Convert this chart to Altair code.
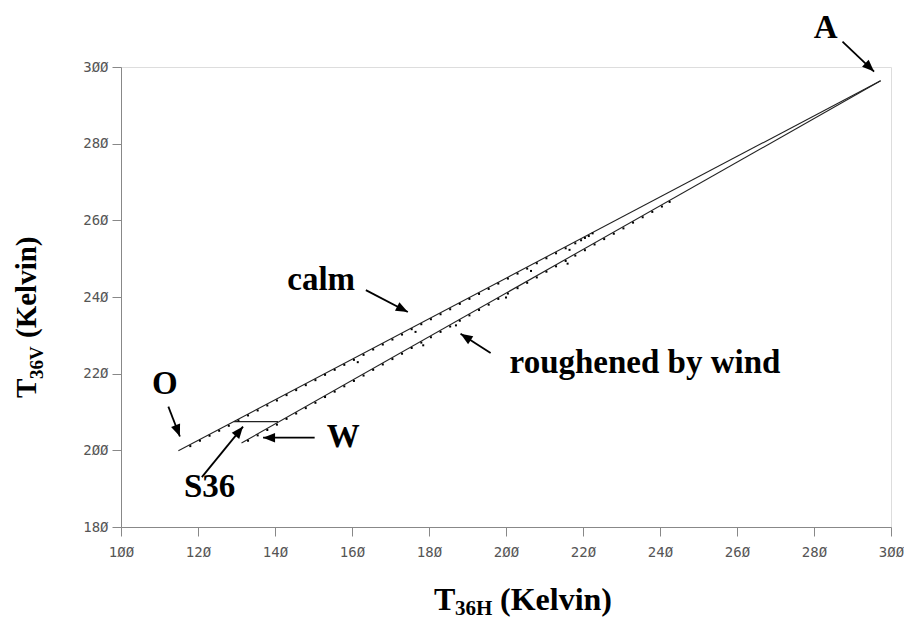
import math
import altair as alt
import pandas as pd

# ---------------- data ----------------
calm_line_x = [114.9, 297.3]
calm_line_y = [199.9, 296.4]
rough_line_x = [131.3, 297.3]
rough_line_y = [201.9, 296.4]

calm_x = [118, 120.5, 123, 125.5, 128, 130.5, 133, 135.5, 138, 140.5, 143, 145.5,
          148, 150.5, 153, 155.5, 158, 160.5, 161.5, 163, 165.5, 168, 170.5, 173,
          175.5, 176.5, 178, 180.5, 183, 185.5, 188, 190.5, 193, 195.5, 198, 200.5,
          203, 205.5, 206.5, 208, 210.5, 213, 215.5, 216.5, 218, 219.5, 220.5, 221.5, 222.5]
calm_y = [201.1, 202.5, 203.8, 205.1, 206.4, 207.8, 209.1, 210.4, 211.7, 213.0, 214.4, 215.7,
          217.0, 218.3, 219.7, 221.0, 222.3, 223.6, 223.0, 224.9, 226.3, 227.6, 228.9, 230.2,
          231.6, 230.9, 232.9, 234.2, 235.5, 236.8, 238.2, 239.5, 240.8, 242.1, 243.5, 244.8,
          246.1, 247.4, 246.8, 248.8, 250.1, 251.4, 252.7, 252.3, 254.0, 254.8, 255.4, 255.9, 256.6]

rough_x = [133, 135.5, 138, 140.5, 143, 145.5, 148, 150.5, 153, 155.5, 158, 160.5,
           163, 165.5, 168, 170.5, 173, 175.5, 178, 178.5, 180.5, 183, 185.5, 187, 188,
           190.5, 193, 195.5, 198, 200, 200.5, 203, 205.5, 208, 210.5, 213, 215.5, 216,
           218, 220.5, 223, 225.5, 228, 230.5, 233, 235.5, 238, 240.5, 242.5]
rough_y = [202.5, 203.9, 205.3, 206.7, 208.2, 209.6, 211.0, 212.4, 213.9, 215.3, 216.7, 218.1,
           219.5, 221.0, 222.4, 223.8, 225.2, 226.7, 228.1, 227.4, 229.5, 230.9, 232.3, 232.6, 233.8,
           235.2, 236.6, 238.0, 239.5, 239.9, 240.9, 242.3, 243.7, 245.1, 246.6, 248.0, 249.4, 248.7,
           250.8, 252.2, 253.7, 255.1, 256.5, 257.9, 259.4, 260.8, 262.2, 263.6, 264.8]

label_text = ["A", "calm", "roughened by wind", "O", "W", "S36"]
label_x = [283.0, 152.0, 236.1, 111.4, 157.7, 123.0]
label_y = [310.1, 244.4, 222.8, 217.3, 203.5, 190.4]

arrow_x1 = [287.4, 163.6, 196.0, 112.3, 150.3, 121.0]
arrow_y1 = [306.6, 241.8, 225.4, 211.4, 203.3, 193.0]
arrow_x2 = [295.6, 174.5, 188.2, 115.3, 136.9, 131.7]
arrow_y2 = [298.8, 236.1, 230.4, 203.6, 203.3, 206.2]

w_seg_x = [129.3, 140.8]
w_seg_y = [207.5, 207.5]

x_ticks = [100, 120, 140, 160, 180, 200, 220, 240, 260, 280, 300]
y_ticks = [180, 200, 220, 240, 260, 280, 300]

# ---------------- layout ----------------
W, H = 770, 460
X_DOM, Y_DOM = [100, 300], [180, 300]
SERIF = "Liberation Serif"
MONO = "DejaVu Sans Mono"

xs = alt.Scale(domain=X_DOM, nice=False, zero=False)
ys = alt.Scale(domain=Y_DOM, nice=False, zero=False)

zero_slash = "replace(datum.label, regexp('0', 'g'), 'Ø')"
axis_common = dict(labelExpr=zero_slash, labelFont=MONO, labelFontSize=14,
                   labelColor="#555", tickColor="#888", domainColor="#888",
                   tickSize=9, grid=False, title=None, format="d", labelFlush=False)
x_axis = alt.Axis(values=x_ticks, labelPadding=9, **axis_common)
y_axis = alt.Axis(values=y_ticks, labelPadding=4, **axis_common)

lines_df = pd.DataFrame({
    "x": calm_line_x + rough_line_x,
    "y": calm_line_y + rough_line_y,
    "s": ["calm"] * len(calm_line_x) + ["rough"] * len(rough_line_x),
})
dots_df = pd.DataFrame({"x": calm_x + rough_x, "y": calm_y + rough_y})
labels_df = pd.DataFrame({"t": label_text, "x": label_x, "y": label_y})

px_x, px_y = W / (X_DOM[1] - X_DOM[0]), H / (Y_DOM[1] - Y_DOM[0])
angles = [math.degrees(math.atan2((x2 - x1) * px_x, (y2 - y1) * px_y)) % 360
          for x1, y1, x2, y2 in zip(arrow_x1, arrow_y1, arrow_x2, arrow_y2)]
arrows_df = pd.DataFrame({"x1": arrow_x1, "y1": arrow_y1, "x2": arrow_x2,
                          "y2": arrow_y2, "a": angles})
seg_df = pd.DataFrame({"x": w_seg_x[:1], "y": w_seg_y[:1], "x2": w_seg_x[1:], "y2": w_seg_y[1:]})

X = alt.X("x:Q", scale=xs, axis=x_axis)
Y = alt.Y("y:Q", scale=ys, axis=y_axis)

lines = alt.Chart(lines_df).mark_line(color="#222", strokeWidth=1.1).encode(
    x=X, y=Y, detail="s:N")
dots = alt.Chart(dots_df).mark_point(shape="square", filled=True, size=4,
                                     color="black", opacity=1).encode(x=X, y=Y)
seg = alt.Chart(seg_df).mark_rule(color="#222", strokeWidth=1.2).encode(
    x=X, y=Y, x2="x2:Q", y2="y2:Q")
shafts = alt.Chart(arrows_df).mark_rule(color="black", strokeWidth=1.8).encode(
    x=alt.X("x1:Q", scale=xs, axis=x_axis), y=alt.Y("y1:Q", scale=ys, axis=y_axis),
    x2="x2:Q", y2="y2:Q")
heads = alt.Chart(arrows_df).mark_point(shape="M0,0L-0.4,1L0.4,1Z", filled=True,
                                        size=576, color="black", opacity=1).encode(
    x=alt.X("x2:Q", scale=xs, axis=x_axis), y=alt.Y("y2:Q", scale=ys, axis=y_axis),
    angle=alt.Angle("a:Q", scale=None))
labels = alt.Chart(labels_df).mark_text(font=SERIF, fontWeight="bold", fontSize=33,
                                        color="black", align="center",
                                        baseline="middle").encode(x=X, y=Y, text="t:N")

one = pd.DataFrame({"k": [0]})


def piece(text, px, py, size, angle=0):
    return alt.Chart(one).mark_text(text=text, font=SERIF, fontWeight="bold",
                                    fontSize=size, color="black", align="left",
                                    baseline="alphabetic", angle=angle).encode(
        x=alt.value(px), y=alt.value(py))


titles = [
    piece("T", 313, 543, 32),
    piece("36H", 334, 548, 21),
    piece("(Kelvin)", 379, 543, 32),
    piece("T", -85, 331, 29, 270),
    piece("36V", -78, 312, 19, 270),
    piece("(Kelvin)", -85, 271, 29, 270),
]

chart = alt.layer(lines, seg, dots, shafts, heads, labels, *titles).properties(
    width=W, height=H,
    autosize=alt.AutoSizeParams(type="none"),
    padding={"left": 113, "top": 59, "right": 13, "bottom": 95},
).configure_view(stroke=None).configure(background="white")

chart.save("out.html", embed_options={"renderer": "svg", "actions": False})
